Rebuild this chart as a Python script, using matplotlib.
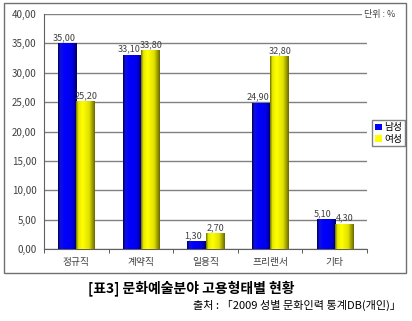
import numpy as np
import matplotlib
matplotlib.use('Agg')
import matplotlib.pyplot as plt
from matplotlib.colors import LinearSegmentedColormap
from matplotlib.patches import Rectangle
from matplotlib.transforms import offset_copy

plt.rcParams['font.family'] = ['Noto Sans CJK KR', 'DejaVu Sans']

categories = ['정규직', '계약직', '일용직', '프리랜서', '기타']
male = [35.00, 33.10, 1.30, 24.90, 5.10]
female = [25.20, 33.80, 2.70, 32.80, 4.30]
series_names = ['남성', '여성']
yticks = [0, 5, 10, 15, 20, 25, 30, 35, 40]

def fmt(v):
    return ('%.2f' % v).replace('.', ',')

W, H = 412, 321
fig = plt.figure(figsize=(W/100, H/100), dpi=100)

# outer frame
fig.patches.append(Rectangle((4/W, 1-273/H), 402/W, 270/H, transform=fig.transFigure,
                             fill=False, ec='#707070', lw=1))

ax = fig.add_axes([44/W, 1-249/H, 323/W, 235/H])
x = np.arange(len(categories))
bw = 0.28

blue_cm = LinearSegmentedColormap.from_list('b', [(0, '#000050'), (0.12, '#1010e0'), (0.35, '#0000ff'),
                                                   (0.75, '#0000e8'), (1, '#00006a')])
yel_cm = LinearSegmentedColormap.from_list('y', [(0, '#707000'), (0.12, '#e8e800'), (0.35, '#ffff00'),
                                                  (0.7, '#e0e000'), (1, '#6a6a00')])

b1 = ax.bar(x - bw/2, male, bw, color='#0000ff', zorder=2, label=series_names[0])
b2 = ax.bar(x + bw/2, female, bw, color='#ffff00', zorder=2, label=series_names[1])

# cylinder-like shading
grad = np.linspace(0, 1, 64).reshape(1, -1)
for bars, cm in ((b1, blue_cm), (b2, yel_cm)):
    for p in bars:
        x0, y0 = p.get_x(), p.get_y()
        im = ax.imshow(grad, cmap=cm, aspect='auto', zorder=3,
                       extent=(x0, x0 + p.get_width(), y0, y0 + p.get_height()))
        im.set_clip_path(p)

# value labels, sitting slightly left of bar centre like the original
for bars, vals, dx in ((b1, male, -3), (b2, female, 1)):
    tr = offset_copy(ax.transData, fig=fig, x=dx, y=1, units='dots')
    for p, v in zip(bars, vals):
        ax.text(p.get_x() + p.get_width()/2, v, fmt(v), ha='center', va='bottom',
                fontsize=6.5, color='#404040', zorder=4, transform=tr)

ax.set_xlim(-0.5, len(categories) - 0.5)
ax.set_ylim(0, 40)
ax.set_yticks(yticks)
ax.set_yticklabels([fmt(v) for v in yticks], fontsize=7, color='#404040')
ax.yaxis.grid(True, color='#808080', lw=1, zorder=0)
ax.set_axisbelow(True)
ax.tick_params(axis='y', length=0, pad=5.5)
ax.set_xticks(x)
ax.set_xticklabels(categories, fontsize=7, color='#404040')
ax.tick_params(axis='x', which='major', length=0, pad=6)
ax.set_xticks(np.arange(len(categories) + 1) - 0.5, minor=True)
ax.tick_params(axis='x', which='minor', length=3, direction='out', color='#404040')
for s in ('top', 'right'):
    ax.spines[s].set_visible(False)
ax.spines['left'].set_color('#606060')
ax.spines['bottom'].set_color('#606060')

ax.text(4.45, 40, '단위 : %', fontsize=6.5, color='#404040', va='center', ha='left',
        clip_on=False, bbox=dict(fc='white', ec='none', pad=1))

fig.legend(handles=[b1, b2], loc='upper right', bbox_to_anchor=(405/W, 1-120/H),
           fontsize=7, frameon=True, fancybox=False, edgecolor='#606060',
           handlelength=0.7, handleheight=0.7, handletextpad=0.3, borderpad=0.25,
           labelspacing=0.15, borderaxespad=0)

fig.text(191/W, 1-288/H, '[표3] 문화예술분야 고용형태별 현황', ha='center', va='center',
         fontsize=10, fontweight='bold', color='black')
fig.text(401/W, 1-305/H, '출처 : 「2009 성별 문화인력 통계DB(개인)」', ha='right', va='center',
         fontsize=8, color='black')

fig.savefig('out.png', dpi=100)
